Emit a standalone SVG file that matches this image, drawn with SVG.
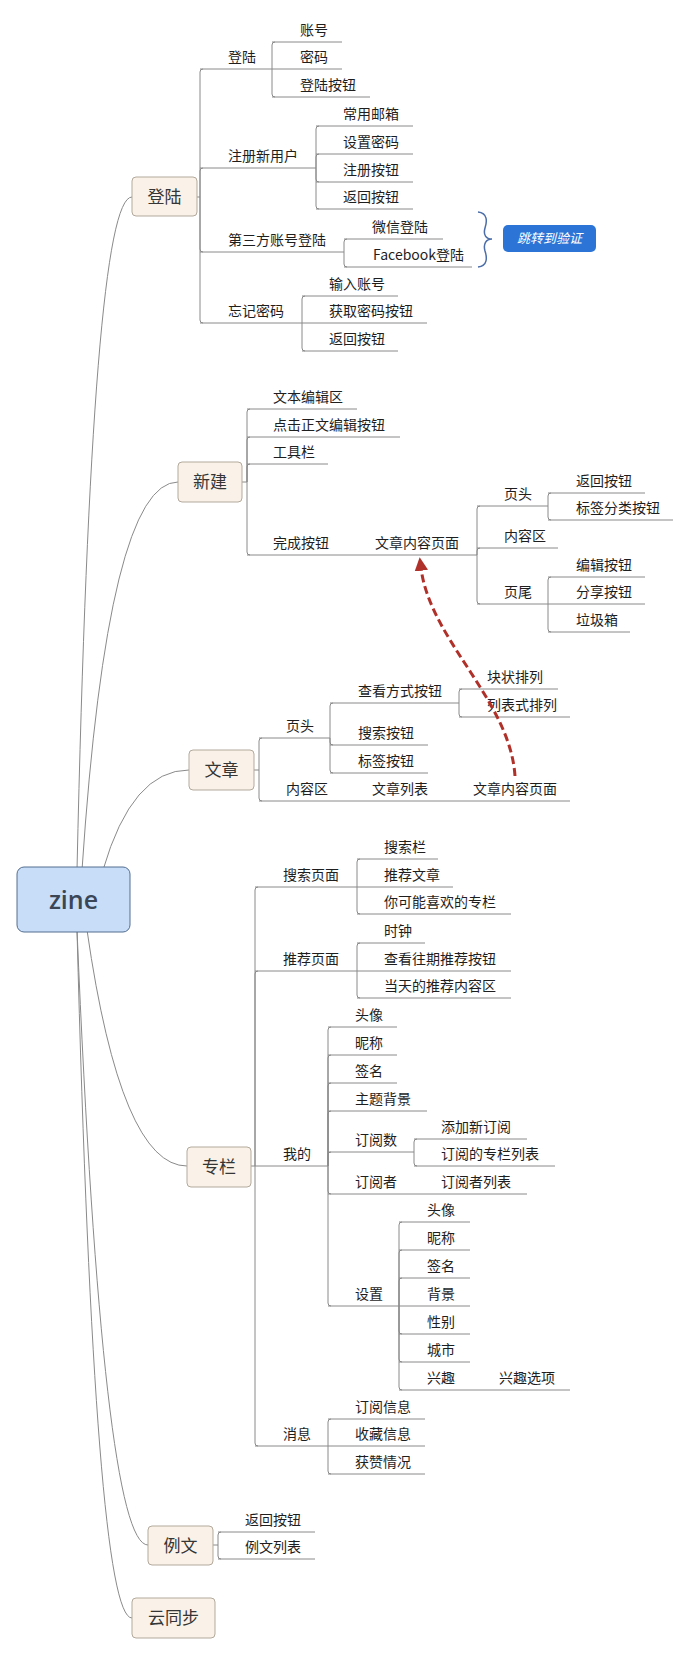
<svg xmlns="http://www.w3.org/2000/svg" width="690" height="1655" viewBox="0 0 690 1655">
<style>
.t{font-family:"Noto Sans CJK SC","Liberation Sans",sans-serif;font-size:14px;fill:#1e1e1e}
.ln{stroke:#8a8a8a;stroke-width:1;fill:none}
.l1 rect{fill:#faf2e8;stroke:#b3a99c;stroke-width:1}
.l1 text{font-family:"Noto Sans CJK SC","Liberation Sans",sans-serif;font-size:17px;fill:#353535;text-anchor:middle}
</style>
<defs>
<marker id="ah" viewBox="0 0 10 10" refX="2" refY="5" markerWidth="4.5" markerHeight="4.5" orient="auto">
<path d="M0 0 L10 5 L0 10 Z" fill="#b0302a"/>
</marker>
</defs>
<rect width="690" height="1655" fill="#fff"/>
<g id="connectors" class="ln">
<!-- root curves -->
<path d="M77 870 Q92 197 132 197"/>
<path d="M82 870 Q108 482 178 482"/>
<path d="M103 870 Q132 770 189 770"/>
<path d="M87 930 Q121 1166 187 1166"/>
<path d="M77 930 Q103 1545 148 1545"/>
<path d="M77 930 Q95 1618 132 1618"/>
<!-- 登陆 -->
<path d="M197 197H200M200 197V72Q200 69 203 69M200 197V171Q200 168 203 168M200 197V249Q200 252 203 252M200 197V320Q200 323 203 323"/>
<path d="M272 69V45Q272 42 275 42M272 69V94Q272 97 275 97"/>
<path d="M316 168V129Q316 126 319 126M316 168V157Q316 154 319 154M316 168V179Q316 182 319 182M316 168V206Q316 209 319 209"/>
<path d="M344 252V242Q344 239 347 239M344 252V264Q344 267 347 267"/>
<path d="M302 323V299Q302 296 305 296M302 323V348Q302 351 305 351"/>
<!-- 新建 -->
<path d="M242 482H247M247 482V412Q247 409 250 409M247 482V440Q247 437 250 437M247 482V467Q247 464 250 464M247 482V552Q247 555 250 555"/>
<path d="M477 555V509Q477 506 480 506M477 555V551Q477 548 480 548M477 555V601Q477 604 480 604"/>
<path d="M548 506V496Q548 493 551 493M548 506V517Q548 520 551 520"/>
<path d="M548 604V580Q548 577 551 577M548 604V629Q548 632 551 632"/>
<!-- 文章 -->
<path d="M254 770H259M259 770V741Q259 738 262 738M259 770V798Q259 801 262 801"/>
<path d="M330 738V706Q330 703 333 703M330 738V742Q330 745 333 745M330 738V770Q330 773 333 773"/>
<path d="M459 703V692Q459 689 462 689M459 703V714Q459 717 462 717"/>
<!-- 专栏 -->
<path d="M251 1166H255M255 1166V890Q255 887 258 887M255 1166V974Q255 971 258 971M255 1166V1443Q255 1446 258 1446"/>
<path d="M357 887V862Q357 859 360 859M357 887V911Q357 914 360 914"/>
<path d="M357 971V946Q357 943 360 943M357 971V995Q357 998 360 998"/>
<path d="M328 1166V1030Q328 1027 331 1027M328 1166V1058Q328 1055 331 1055M328 1166V1086Q328 1083 331 1083M328 1166V1114Q328 1111 331 1111M328 1166V1155Q328 1152 331 1152M328 1166V1191Q328 1194 331 1194M328 1166V1303Q328 1306 331 1306"/>
<path d="M414 1152V1142Q414 1139 417 1139M414 1152V1163Q414 1166 417 1166"/>
<path d="M399 1306V1225Q399 1222 402 1222M399 1306V1253Q399 1250 402 1250M399 1306V1281Q399 1278 402 1278M399 1306V1331Q399 1334 402 1334M399 1306V1359Q399 1362 402 1362M399 1306V1387Q399 1390 402 1390"/>
<path d="M328 1446V1422Q328 1419 331 1419M328 1446V1471Q328 1474 331 1474"/>
<!-- 例文 -->
<path d="M213 1545H218M218 1545V1535Q218 1532 221 1532M218 1545V1556Q218 1559 221 1559"/>
<!-- brace to summary -->
<path d="M478 212C488 213 487 222 485 228C483 235 486 239 492 239C486 239 483 244 485 251C487 257 488 266 478 267" stroke="#4b6ea8" stroke-width="1.5"/>
</g>

<g id="root">
<rect x="17" y="867" width="113" height="65" rx="7" fill="#c7ddf8" stroke="#546e91" stroke-width="1"/>
<text x="73.5" y="909" text-anchor="middle" font-family="'Open Sans','Liberation Sans',sans-serif" font-size="25" font-weight="600" fill="#3a4656">zine</text>
</g>

<g id="n-denglu" class="l1"><rect x="132" y="177" width="65" height="39" rx="4"/><text x="164.5" y="203">登陆</text></g>
<g id="n-xinjian" class="l1"><rect x="178" y="462" width="64" height="40" rx="4"/><text x="210" y="488">新建</text></g>
<g id="n-wenzhang" class="l1"><rect x="189" y="750" width="65" height="40" rx="4"/><text x="221.5" y="776">文章</text></g>
<g id="n-zhuanlan" class="l1"><rect x="187" y="1147" width="64" height="40" rx="4"/><text x="219" y="1173">专栏</text></g>
<g id="n-liwen" class="l1"><rect x="148" y="1526" width="65" height="39" rx="4"/><text x="180.5" y="1552">例文</text></g>
<g id="n-yuntongbu" class="l1"><rect x="132" y="1598" width="83" height="40" rx="4"/><text x="173.5" y="1624">云同步</text></g>

<!-- 登陆 subtree -->
<g id="n-dl-login"><path class="ln" d="M200 69H272"/><text class="t" x="228" y="62">登陆</text></g>
<g id="n-dl-acc"><path class="ln" d="M272 42H342"/><text class="t" x="300" y="35">账号</text></g>
<g id="n-dl-pwd"><path class="ln" d="M272 69H342"/><text class="t" x="300" y="62">密码</text></g>
<g id="n-dl-btn"><path class="ln" d="M272 97H370"/><text class="t" x="300" y="90">登陆按钮</text></g>
<g id="n-dl-reg"><path class="ln" d="M200 168H316"/><text class="t" x="228" y="161">注册新用户</text></g>
<g id="n-dl-mail"><path class="ln" d="M316 126H413"/><text class="t" x="343" y="119">常用邮箱</text></g>
<g id="n-dl-setpwd"><path class="ln" d="M316 154H413"/><text class="t" x="343" y="147">设置密码</text></g>
<g id="n-dl-regbtn"><path class="ln" d="M316 182H413"/><text class="t" x="343" y="175">注册按钮</text></g>
<g id="n-dl-back1"><path class="ln" d="M316 209H413"/><text class="t" x="343" y="202">返回按钮</text></g>
<g id="n-dl-third"><path class="ln" d="M200 252H344"/><text class="t" x="228" y="245">第三方账号登陆</text></g>
<g id="n-dl-wx"><path class="ln" d="M344 239H443"/><text class="t" x="372" y="232">微信登陆</text></g>
<g id="n-dl-fb"><path class="ln" d="M344 267H472"/><text class="t" x="373" y="260">Facebook登陆</text></g>
<g id="n-dl-summary"><rect x="503" y="225" width="93" height="27" rx="5" fill="#2c74d6"/><text x="549.5" y="243" text-anchor="middle" font-family="'Noto Sans CJK SC','Liberation Sans',sans-serif" font-size="13" font-style="italic" fill="#fff">跳转到验证</text></g>
<g id="n-dl-forget"><path class="ln" d="M200 323H302"/><text class="t" x="228" y="316">忘记密码</text></g>
<g id="n-dl-inacc"><path class="ln" d="M302 296H398"/><text class="t" x="329" y="289">输入账号</text></g>
<g id="n-dl-getpwd"><path class="ln" d="M302 323H427"/><text class="t" x="329" y="316">获取密码按钮</text></g>
<g id="n-dl-back2"><path class="ln" d="M302 351H398"/><text class="t" x="329" y="344">返回按钮</text></g>

<!-- 新建 subtree -->
<g id="n-xj-edit"><path class="ln" d="M247 409H357"/><text class="t" x="273" y="402">文本编辑区</text></g>
<g id="n-xj-click"><path class="ln" d="M247 437H400"/><text class="t" x="273" y="430">点击正文编辑按钮</text></g>
<g id="n-xj-tool"><path class="ln" d="M247 464H328"/><text class="t" x="273" y="457">工具栏</text></g>
<g id="n-xj-done"><path class="ln" d="M247 555H347"/><text class="t" x="273" y="548">完成按钮</text></g>
<g id="n-xj-page"><path class="ln" d="M347 555H477"/><text class="t" x="375" y="548">文章内容页面</text></g>
<g id="n-xj-head"><path class="ln" d="M477 506H548"/><text class="t" x="504" y="499">页头</text></g>
<g id="n-xj-back"><path class="ln" d="M548 493H645"/><text class="t" x="576" y="486">返回按钮</text></g>
<g id="n-xj-tag"><path class="ln" d="M548 520H673"/><text class="t" x="576" y="513">标签分类按钮</text></g>
<g id="n-xj-content"><path class="ln" d="M477 548H558"/><text class="t" x="504" y="541">内容区</text></g>
<g id="n-xj-foot"><path class="ln" d="M477 604H548"/><text class="t" x="504" y="597">页尾</text></g>
<g id="n-xj-editbtn"><path class="ln" d="M548 577H645"/><text class="t" x="576" y="570">编辑按钮</text></g>
<g id="n-xj-share"><path class="ln" d="M548 604H645"/><text class="t" x="576" y="597">分享按钮</text></g>
<g id="n-xj-trash"><path class="ln" d="M548 632H630"/><text class="t" x="576" y="625">垃圾箱</text></g>

<!-- 文章 subtree -->
<g id="n-wz-head"><path class="ln" d="M259 738H330"/><text class="t" x="286" y="731">页头</text></g>
<g id="n-wz-view"><path class="ln" d="M330 703H459"/><text class="t" x="358" y="696">查看方式按钮</text></g>
<g id="n-wz-block"><path class="ln" d="M459 689H558"/><text class="t" x="487" y="682">块状排列</text></g>
<g id="n-wz-list"><path class="ln" d="M459 717H570"/><text class="t" x="487" y="710">列表式排列</text></g>
<g id="n-wz-search"><path class="ln" d="M330 745H428"/><text class="t" x="358" y="738">搜索按钮</text></g>
<g id="n-wz-tag"><path class="ln" d="M330 773H428"/><text class="t" x="358" y="766">标签按钮</text></g>
<g id="n-wz-content"><path class="ln" d="M259 801H346"/><text class="t" x="286" y="794">内容区</text></g>
<g id="n-wz-artlist"><path class="ln" d="M346 801H446"/><text class="t" x="372" y="794">文章列表</text></g>
<g id="n-wz-page"><path class="ln" d="M446 801H570"/><text class="t" x="473" y="794">文章内容页面</text></g>

<!-- 专栏 subtree -->
<g id="n-zl-search"><path class="ln" d="M255 887H357"/><text class="t" x="283" y="880">搜索页面</text></g>
<g id="n-zl-sbar"><path class="ln" d="M357 859H438"/><text class="t" x="384" y="852">搜索栏</text></g>
<g id="n-zl-rec"><path class="ln" d="M357 887H453"/><text class="t" x="384" y="880">推荐文章</text></g>
<g id="n-zl-like"><path class="ln" d="M357 914H511"/><text class="t" x="384" y="907">你可能喜欢的专栏</text></g>
<g id="n-zl-recpage"><path class="ln" d="M255 971H357"/><text class="t" x="283" y="964">推荐页面</text></g>
<g id="n-zl-clock"><path class="ln" d="M357 943H425"/><text class="t" x="384" y="936">时钟</text></g>
<g id="n-zl-past"><path class="ln" d="M357 971H511"/><text class="t" x="384" y="964">查看往期推荐按钮</text></g>
<g id="n-zl-today"><path class="ln" d="M357 998H511"/><text class="t" x="384" y="991">当天的推荐内容区</text></g>
<g id="n-zl-mine"><path class="ln" d="M255 1166H328"/><text class="t" x="283" y="1159">我的</text></g>
<g id="n-zl-avatar"><path class="ln" d="M328 1027H397"/><text class="t" x="355" y="1020">头像</text></g>
<g id="n-zl-nick"><path class="ln" d="M328 1055H397"/><text class="t" x="355" y="1048">昵称</text></g>
<g id="n-zl-sign"><path class="ln" d="M328 1083H397"/><text class="t" x="355" y="1076">签名</text></g>
<g id="n-zl-theme"><path class="ln" d="M328 1111H427"/><text class="t" x="355" y="1104">主题背景</text></g>
<g id="n-zl-subs"><path class="ln" d="M328 1152H414"/><text class="t" x="355" y="1145">订阅数</text></g>
<g id="n-zl-addsub"><path class="ln" d="M414 1139H527"/><text class="t" x="441" y="1132">添加新订阅</text></g>
<g id="n-zl-sublist"><path class="ln" d="M414 1166H555"/><text class="t" x="441" y="1159">订阅的专栏列表</text></g>
<g id="n-zl-subscriber"><path class="ln" d="M328 1194H413"/><text class="t" x="355" y="1187">订阅者</text></g>
<g id="n-zl-subrlist"><path class="ln" d="M413 1194H527"/><text class="t" x="441" y="1187">订阅者列表</text></g>
<g id="n-zl-settings"><path class="ln" d="M328 1306H399"/><text class="t" x="355" y="1299">设置</text></g>
<g id="n-zl-s-avatar"><path class="ln" d="M399 1222H470"/><text class="t" x="427" y="1215">头像</text></g>
<g id="n-zl-s-nick"><path class="ln" d="M399 1250H470"/><text class="t" x="427" y="1243">昵称</text></g>
<g id="n-zl-s-sign"><path class="ln" d="M399 1278H470"/><text class="t" x="427" y="1271">签名</text></g>
<g id="n-zl-s-bg"><path class="ln" d="M399 1306H470"/><text class="t" x="427" y="1299">背景</text></g>
<g id="n-zl-s-sex"><path class="ln" d="M399 1334H470"/><text class="t" x="427" y="1327">性别</text></g>
<g id="n-zl-s-city"><path class="ln" d="M399 1362H470"/><text class="t" x="427" y="1355">城市</text></g>
<g id="n-zl-s-int"><path class="ln" d="M399 1390H471"/><text class="t" x="427" y="1383">兴趣</text></g>
<g id="n-zl-s-intopt"><path class="ln" d="M471 1390H570"/><text class="t" x="499" y="1383">兴趣选项</text></g>
<g id="n-zl-msg"><path class="ln" d="M255 1446H328"/><text class="t" x="283" y="1439">消息</text></g>
<g id="n-zl-m-sub"><path class="ln" d="M328 1419H425"/><text class="t" x="355" y="1412">订阅信息</text></g>
<g id="n-zl-m-fav"><path class="ln" d="M328 1446H425"/><text class="t" x="355" y="1439">收藏信息</text></g>
<g id="n-zl-m-like"><path class="ln" d="M328 1474H425"/><text class="t" x="355" y="1467">获赞情况</text></g>

<!-- 例文 subtree -->
<g id="n-lw-back"><path class="ln" d="M218 1532H315"/><text class="t" x="245" y="1525">返回按钮</text></g>
<g id="n-lw-list"><path class="ln" d="M218 1559H315"/><text class="t" x="245" y="1552">例文列表</text></g>

<!-- relationship arrow -->
<g id="relationship">
<path d="M515 776C510 700 430 640 421 568" fill="none" stroke="#b0302a" stroke-width="3" stroke-dasharray="8 4" marker-end="url(#ah)"/>
</g>
</svg>
